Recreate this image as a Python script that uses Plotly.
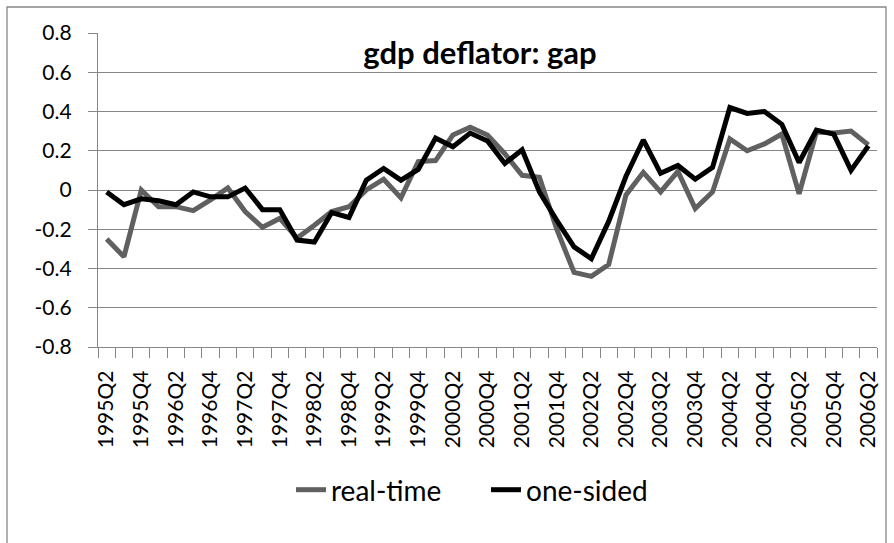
import plotly.graph_objects as go

quarters = [f"{y}Q{q}" for y in range(1995, 2007) for q in range(1, 5)]
quarters = quarters[quarters.index("1995Q2"):quarters.index("2006Q2") + 1]

real_time = [-0.25, -0.34, 0.00, -0.085, -0.085, -0.105, -0.05, 0.01, -0.11, -0.19,
             -0.145, -0.245, -0.18, -0.11, -0.085, 0.00, 0.055, -0.04, 0.145, 0.15,
             0.28, 0.32, 0.28, 0.185, 0.075, 0.065, -0.20, -0.42, -0.44, -0.38,
             -0.025, 0.09, -0.01, 0.095, -0.095, -0.01, 0.26, 0.20, 0.235, 0.285,
             -0.02, 0.295, 0.29, 0.30, 0.23]

one_sided = [-0.01, -0.075, -0.045, -0.055, -0.075, -0.01, -0.035, -0.035, 0.01, -0.10,
             -0.10, -0.255, -0.265, -0.115, -0.14, 0.05, 0.11, 0.05, 0.105, 0.265,
             0.22, 0.29, 0.25, 0.135, 0.205, -0.01, -0.155, -0.29, -0.35, -0.16,
             0.07, 0.255, 0.085, 0.125, 0.055, 0.115, 0.42, 0.39, 0.40, 0.335,
             0.14, 0.305, 0.285, 0.10, 0.225]

y_ticks = [0.8, 0.6, 0.4, 0.2, 0, -0.2, -0.4, -0.6, -0.8]
y_tick_text = ["0.8", "0.6", "0.4", "0.2", "0", "-0.2", "-0.4", "-0.6", "-0.8"]
x_tick_text = [q if i % 2 == 0 else "" for i, q in enumerate(quarters)]

FONT = "Lato"
GRID = "#878787"

fig = go.Figure()
fig.add_trace(go.Scatter(x=quarters, y=real_time, mode="lines", name="real-time",
                         line=dict(color="#606060", width=5)))
fig.add_trace(go.Scatter(x=quarters, y=one_sided, mode="lines", name="one-sided",
                         line=dict(color="#000000", width=5)))

L, R, T, B = 98, 17, 33, 196
W, H = 894, 543
pw, ph = W - L - R, H - T - B

def px(xp):
    return (xp - L) / pw

def py(yp):
    return (H - B - yp) / ph

fig.update_layout(
    width=W, height=H,
    margin=dict(l=L, r=R, t=T, b=B, autoexpand=False),
    paper_bgcolor="white", plot_bgcolor="white",
    font=dict(family=FONT, color="black", size=21),
    title=dict(text="<b>gdp deflator: gap</b>", xref="paper", yref="paper",
               x=px(480), xanchor="center", y=py(53), yanchor="middle",
               font=dict(family=FONT, size=31, color="black")),
    showlegend=True,
    legend=dict(orientation="h", xref="paper", yref="paper",
                x=px(291), xanchor="left", y=py(490), yanchor="middle",
                font=dict(family=FONT, size=28, color="black"),
                entrywidth=150, entrywidthmode="pixels",
                bgcolor="rgba(0,0,0,0)", tracegroupgap=0),
    xaxis=dict(type="category", tickmode="array", tickvals=quarters, ticktext=x_tick_text,
               tickson="boundaries", ticks="outside", ticklen=10, tickcolor=GRID,
               tickwidth=1.3, showgrid=False, showline=True, linecolor=GRID, linewidth=1.3,
               tickangle=-90, tickfont=dict(family=FONT, size=21),
               ticklabelstandoff=14, range=[-0.5, len(quarters) - 0.5], zeroline=False),
    yaxis=dict(range=[-0.8, 0.8], tickmode="array", tickvals=y_ticks, ticktext=y_tick_text,
               ticks="outside", ticklen=9, tickcolor=GRID, tickwidth=1.3,
               showgrid=True, gridcolor=GRID, gridwidth=1.3,
               showline=True, linecolor=GRID, linewidth=1.3, zeroline=False,
               tickfont=dict(family=FONT, size=21), ticklabelstandoff=12),
    shapes=[dict(type="rect", xref="paper", yref="paper",
                 x0=px(7), x1=px(886), y0=py(570), y1=py(7),
                 line=dict(color=GRID, width=1.3), fillcolor="rgba(0,0,0,0)", layer="below")],
)

fig.write_html("out.html", config={"displayModeBar": False},
               post_script="document.body.style.margin='0';document.body.style.overflow='hidden';")
